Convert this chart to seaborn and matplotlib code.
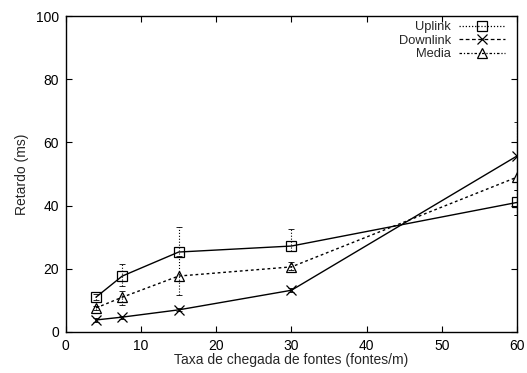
import matplotlib
matplotlib.use("Agg")
import matplotlib.pyplot as plt
from matplotlib.lines import Line2D
import seaborn as sns
import numpy as np
import pandas as pd

# dados
taxa = [4, 7.5, 15, 30, 60]
uplink = [11.0, 17.7, 25.3, 27.2, 41.0]
uplink_lo = [10.0, 14.5, 23.7, 25.5, 37.0]
uplink_hi = [12.0, 21.5, 33.2, 32.6, 45.0]
downlink = [3.8, 4.7, 7.0, 13.2, 55.7]
downlink_lo = [3.3, 4.2, 6.5, 12.5, 45.0]
downlink_hi = [4.3, 5.2, 7.5, 14.0, 66.5]
media = [7.6, 11.0, 17.7, 20.6, 49.0]
media_lo = [7.0, 8.5, 11.7, 19.5, 37.0]
media_hi = [8.2, 13.0, 24.0, 22.0, 60.0]

series = {
    "Uplink": (uplink, uplink_lo, uplink_hi, "s", "-", (0, (1, 1.5))),
    "Downlink": (downlink, downlink_lo, downlink_hi, "x", "-", (0, (3, 2))),
    "Media": (media, media_lo, media_hi, "^", (0, (2, 2)), (0, (2, 1.5, 1, 1.5))),
}

sns.set_style("ticks")
plt.rcParams["font.family"] = ["Liberation Sans", "DejaVu Sans"]

fig = plt.figure(figsize=(5.27, 3.73), dpi=100)
ax = fig.add_axes([0.125, 0.110, 0.856, 0.847])

handles = []
for name, (vals, lo, hi, mk, ls, leg_ls) in series.items():
    df = pd.DataFrame({"x": taxa, "y": vals})
    v = np.array(vals)
    yerr = [v - np.array(lo), np.array(hi) - v]
    ax.errorbar(taxa, vals, yerr=yerr, fmt="none", ecolor="black",
                elinewidth=0.8, capsize=2, capthick=0.6, linestyle=":")
    for bar in ax.containers[-1].lines[2]:
        bar.set_linestyle(":")
    sns.lineplot(data=df, x="x", y="y", ax=ax, color="black", linewidth=1.0,
                 linestyle=ls, marker=mk, markersize=7,
                 markerfacecolor="none", markeredgecolor="black",
                 markeredgewidth=0.9)
    handles.append(Line2D([0], [0], color="black", linewidth=0.9, linestyle=leg_ls,
                          marker=mk, markersize=7, markerfacecolor="none",
                          markeredgecolor="black", markeredgewidth=0.9, label=name))

ax.set_xlim(0, 60)
ax.set_ylim(0, 100)
ax.set_xticks(range(0, 61, 10))
ax.set_yticks(range(0, 101, 20))
ax.set_xlabel("Taxa de chegada de fontes (fontes/m)", fontsize=10, labelpad=0)
ax.set_ylabel("Retardo (ms)", fontsize=10, labelpad=5)
ax.tick_params(direction="in", length=4, width=0.8, labelsize=10,
               top=True, right=True, pad=5, colors="black")
for sp in ax.spines.values():
    sp.set_visible(True)
    sp.set_linewidth(1.0)
    sp.set_color("black")

leg = ax.legend(handles=handles, loc="upper right", frameon=False,
                markerfirst=False, fontsize=9.3, handlelength=3.6,
                handletextpad=0.6, labelspacing=0.12,
                borderaxespad=0.0, bbox_to_anchor=(0.985, 1.0))
for t in leg.get_texts():
    t.set_ha("right")

fig.savefig("out.png", dpi=100)
